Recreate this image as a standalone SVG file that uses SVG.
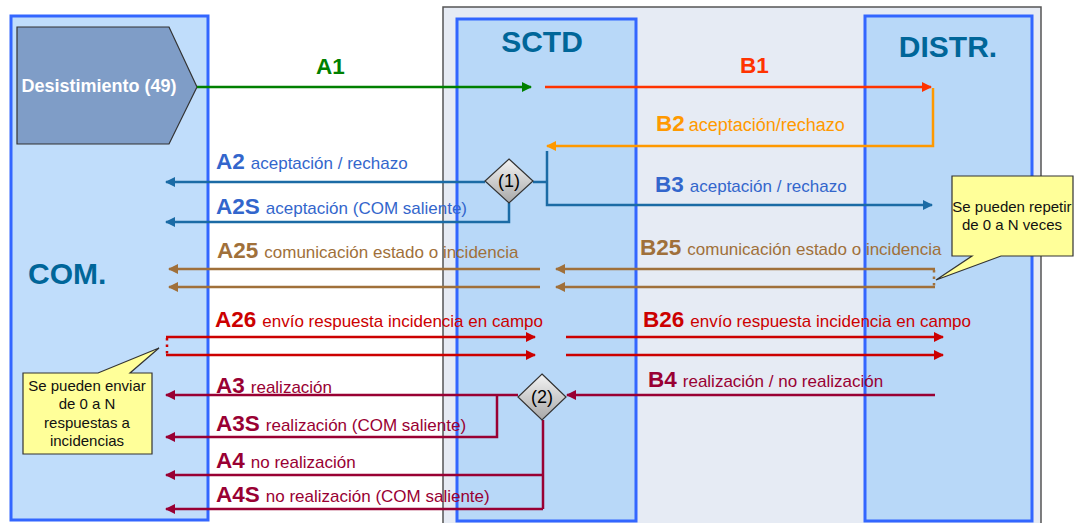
<svg xmlns="http://www.w3.org/2000/svg" width="1078" height="523" viewBox="0 0 1078 523">
<style>
.lane{stroke:#3366FF;stroke-width:3}
.title{font-family:"Liberation Sans",Arial,sans-serif;font-weight:bold;font-size:30px;fill:#006699}
.lbl{font-family:"Liberation Sans",Arial,sans-serif;font-size:17px}
.b{font-weight:bold;font-size:22.5px}
.c{fill:none;stroke-width:2.5}
.note{fill:#FFFF99;stroke:#333;stroke-width:1.2}
.nt{font-family:"Liberation Sans",Arial,sans-serif;font-size:15px;fill:#111;text-anchor:middle}
.dia{stroke:#333;stroke-width:1.2;fill:url(#dg)}
.dt{font-family:"Liberation Sans",Arial,sans-serif;font-size:18px;fill:#000;text-anchor:middle}
</style>
<defs>
<linearGradient id="dg" x1="0" y1="0" x2="0" y2="1">
<stop offset="0" stop-color="#F4F4F4"/><stop offset="1" stop-color="#A8A8A8"/>
</linearGradient>
<marker id="m-green" viewBox="0 0 10 10" refX="9" refY="5" markerWidth="12" markerHeight="10" markerUnits="userSpaceOnUse" orient="auto"><path d="M0,0 L10,5 L0,10 z" fill="#008000"/></marker>
<marker id="m-red1" viewBox="0 0 10 10" refX="9" refY="5" markerWidth="12" markerHeight="10" markerUnits="userSpaceOnUse" orient="auto"><path d="M0,0 L10,5 L0,10 z" fill="#FF3300"/></marker>
<marker id="m-orange" viewBox="0 0 10 10" refX="9" refY="5" markerWidth="12" markerHeight="10" markerUnits="userSpaceOnUse" orient="auto"><path d="M0,0 L10,5 L0,10 z" fill="#FF9900"/></marker>
<marker id="m-blue" viewBox="0 0 10 10" refX="9" refY="5" markerWidth="12" markerHeight="10" markerUnits="userSpaceOnUse" orient="auto"><path d="M0,0 L10,5 L0,10 z" fill="#1B6BA5"/></marker>
<marker id="m-brown" viewBox="0 0 10 10" refX="9" refY="5" markerWidth="12" markerHeight="10" markerUnits="userSpaceOnUse" orient="auto"><path d="M0,0 L10,5 L0,10 z" fill="#A0703A"/></marker>
<marker id="m-red" viewBox="0 0 10 10" refX="9" refY="5" markerWidth="12" markerHeight="10" markerUnits="userSpaceOnUse" orient="auto"><path d="M0,0 L10,5 L0,10 z" fill="#CC0000"/></marker>
<marker id="m-maroon" viewBox="0 0 10 10" refX="9" refY="5" markerWidth="12" markerHeight="10" markerUnits="userSpaceOnUse" orient="auto"><path d="M0,0 L10,5 L0,10 z" fill="#990033"/></marker>
</defs>
<rect width="1078" height="523" fill="#FFFFFF"/>
<rect id="panel" x="443" y="7" width="598" height="530" fill="#E6EBF4" stroke="#555" stroke-width="1.5"/>
<g id="com">
<rect class="lane" x="11" y="16" width="197" height="504" fill="#C0DDFB"/>
<text class="title" x="28" y="284">COM.</text>
</g>
<g id="sctd">
<rect class="lane" x="457" y="19" width="179" height="502" fill="#B8D8F8"/>
<text class="title" x="542" y="52" text-anchor="middle">SCTD</text>
</g>
<g id="distr">
<rect class="lane" x="865" y="16" width="167" height="505" fill="#B8D8F8"/>
<text class="title" x="948" y="57" text-anchor="middle">DISTR.</text>
</g>
<g id="desistimiento">
<polygon points="17,27 169,27 197,87 169,144 17,144" fill="#7F9DC7" stroke="#333" stroke-width="1.2"/>
<text x="99" y="92" text-anchor="middle" font-family="Liberation Sans, Arial, sans-serif" font-weight="bold" font-size="18" fill="#FFFFFF">Desistimiento (49)</text>
</g>
<g id="connectors">
<path class="c" stroke="#008000" d="M197,87 H531" marker-end="url(#m-green)"/>
<path class="c" stroke="#FF3300" d="M545,87 H931" marker-end="url(#m-red1)"/>
<path class="c" stroke="#FF9900" d="M933,88 V146 H547" marker-end="url(#m-orange)"/>
<path class="c" stroke="#1B6BA5" d="M485,182 H166" marker-end="url(#m-blue)"/>
<path class="c" stroke="#1B6BA5" d="M509,203 V222 H166" marker-end="url(#m-blue)"/>
<path class="c" stroke="#1B6BA5" d="M533,182 H547"/>
<path class="c" stroke="#1B6BA5" d="M547,151 V205 H932" marker-end="url(#m-blue)"/>
<path class="c" stroke="#A0703A" d="M540,269 H169" marker-end="url(#m-brown)"/>
<path class="c" stroke="#A0703A" d="M540,287 H169" marker-end="url(#m-brown)"/>
<path class="c" stroke="#A0703A" d="M935,269 H556" marker-end="url(#m-brown)"/>
<path class="c" stroke="#A0703A" d="M935,287 H556" marker-end="url(#m-brown)"/>
<path class="c" stroke="#A0703A" d="M934,270 V287" stroke-dasharray="2.5,4"/>
<path class="c" stroke="#CC0000" d="M166,337 H535" marker-end="url(#m-red)"/>
<path class="c" stroke="#CC0000" d="M166,355 H535" marker-end="url(#m-red)"/>
<path class="c" stroke="#CC0000" d="M167,338 V355" stroke-dasharray="2.5,4"/>
<path class="c" stroke="#CC0000" d="M566,337 H943" marker-end="url(#m-red)"/>
<path class="c" stroke="#CC0000" d="M566,355 H943" marker-end="url(#m-red)"/>
<path class="c" stroke="#990033" d="M935,395 H567" marker-end="url(#m-maroon)"/>
<path class="c" stroke="#990033" d="M518,395 H166" marker-end="url(#m-maroon)"/>
<path class="c" stroke="#990033" d="M497,395 V437 H166" marker-end="url(#m-maroon)"/>
<path class="c" stroke="#990033" d="M543,420 V509"/>
<path class="c" stroke="#990033" d="M543,475 H166" marker-end="url(#m-maroon)"/>
<path class="c" stroke="#990033" d="M543,509 H166" marker-end="url(#m-maroon)"/>
</g>
<g id="diamond1">
<polygon class="dia" points="509,159 533,181 509,203 485,181"/>
<text class="dt" x="509" y="187">(1)</text>
</g>
<g id="diamond2">
<polygon class="dia" points="542,374 566,397 542,420 518,397"/>
<text class="dt" x="542" y="403">(2)</text>
</g>
<g id="labels">
<text x="316" y="74" font-family="Liberation Sans, Arial, sans-serif" font-weight="bold" font-size="22.5" fill="#008000">A1</text>
<text x="740" y="73" font-family="Liberation Sans, Arial, sans-serif" font-weight="bold" font-size="22.5" fill="#FF3300">B1</text>
<text class="lbl" x="656" y="131" fill="#FF9900"><tspan class="b">B2</tspan><tspan dx="4" font-size="18">aceptación/rechazo</tspan></text>
<text class="lbl" x="216" y="169" fill="#3366CC"><tspan class="b">A2</tspan><tspan dx="6">aceptación / rechazo</tspan></text>
<text class="lbl" x="216" y="214" fill="#3366CC"><tspan class="b">A2S</tspan><tspan dx="6">aceptación (COM saliente)</tspan></text>
<text class="lbl" x="655" y="192" fill="#3366CC"><tspan class="b">B3</tspan><tspan dx="6">aceptación / rechazo</tspan></text>
<text class="lbl" x="217" y="258" fill="#A0703A"><tspan class="b">A25</tspan><tspan dx="6">comunicación estado o incidencia</tspan></text>
<text class="lbl" x="640" y="255" fill="#A0703A"><tspan class="b">B25</tspan><tspan dx="6">comunicación estado o incidencia</tspan></text>
<text class="lbl" x="215" y="327" fill="#CC0000"><tspan class="b">A26</tspan><tspan dx="6">envío respuesta incidencia en campo</tspan></text>
<text class="lbl" x="643" y="327" fill="#CC0000"><tspan class="b">B26</tspan><tspan dx="6">envío respuesta incidencia en campo</tspan></text>
<text class="lbl" x="648" y="387" fill="#990033"><tspan class="b">B4</tspan><tspan dx="6">realización / no realización</tspan></text>
<text class="lbl" x="216" y="393" fill="#990033"><tspan class="b">A3</tspan><tspan dx="6">realización</tspan></text>
<text class="lbl" x="216" y="431" fill="#990033"><tspan class="b">A3S</tspan><tspan dx="6">realización (COM saliente)</tspan></text>
<text class="lbl" x="216" y="468" fill="#990033"><tspan class="b">A4</tspan><tspan dx="6">no realización</tspan></text>
<text class="lbl" x="216" y="502" fill="#990033"><tspan class="b">A4S</tspan><tspan dx="6">no realización (COM saliente)</tspan></text>
</g>
<g id="note1">
<path class="note" d="M952,176 H1073 V256 H1001 L936,280 L972,256 H952 Z"/>
<text class="nt" x="1012" y="212">Se pueden repetir</text>
<text class="nt" x="1012" y="230">de 0 a N veces</text>
</g>
<g id="note2">
<path class="note" d="M23,373 H98 L159,348 L130,373 H152 V454 H23 Z"/>
<text class="nt" x="87" y="391">Se pueden enviar</text>
<text class="nt" x="87" y="409">de 0 a N</text>
<text class="nt" x="87" y="428">respuestas a</text>
<text class="nt" x="87" y="446">incidencias</text>
</g>
</svg>
